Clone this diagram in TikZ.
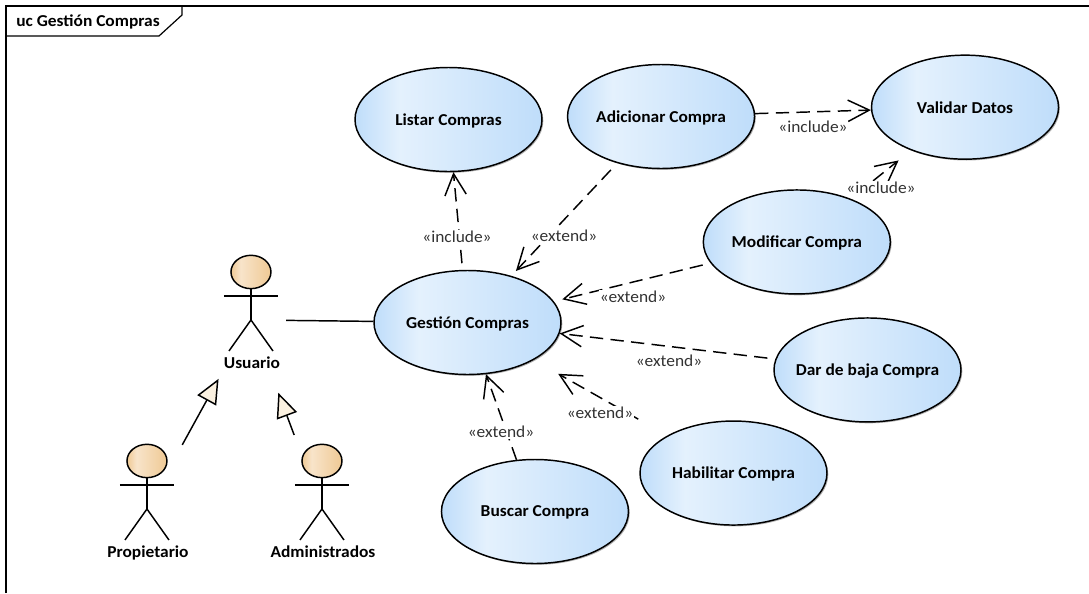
\documentclass[tikz,border=0pt]{standalone}
\usepackage{fontspec}
\setmainfont[FakeStretch=1.045]{Carlito}
\usetikzlibrary{shapes.geometric, arrows.meta, shadows}

\definecolor{ucblue}{HTML}{BFDDFA}
\definecolor{uclight}{HTML}{E4F1FD}
\definecolor{headtan}{HTML}{EFC994}
\definecolor{headlight}{HTML}{F8E4CA}
\definecolor{tipfill}{HTML}{FBF1E0}
\definecolor{labelgray}{HTML}{333333}

\pgfdeclarehorizontalshading{usecaseshade}{100bp}{color(0bp)=(ucblue); color(25bp)=(ucblue); color(37bp)=(uclight); color(75bp)=(ucblue); color(100bp)=(ucblue)}
\pgfdeclarehorizontalshading{headshade}{100bp}{color(0bp)=(headtan); color(25bp)=(headtan); color(37bp)=(headlight); color(75bp)=(headtan); color(100bp)=(headtan)}

\tikzstyle{usecase} = [ellipse, minimum width=140.25pt, minimum height=78pt, inner sep=0pt, text depth=0pt, draw=black, line width=1.1pt, shading=usecaseshade, drop shadow={shadow xshift=1pt, shadow yshift=-1pt, opacity=.3, fill=black}, font=\fontsize{12.5}{14}\selectfont\bfseries]
\tikzstyle{actorbox} = [rectangle, minimum width=52.5pt, minimum height=97.5pt, inner sep=0pt]
\tikzstyle{actorhead} = [ellipse, minimum width=30pt, minimum height=25pt, inner sep=0pt, draw=black, line width=1.1pt, shading=headshade]
\tikzstyle{actorname} = [inner sep=0pt, text depth=0pt, font=\fontsize{12.5}{14}\selectfont\bfseries]
\tikzstyle{stick} = [line width=1.1pt]
\tikzstyle{deplabel} = [fill=white, inner sep=0.5pt, text=labelgray, font=\fontsize{12.5}{14}\selectfont]
\tikzstyle{dep} = [line width=1.1pt, dash pattern=on 10pt off 5.5pt, -{Straight Barb[length=16pt, width=16pt]}]
\tikzstyle{inherit} = [line width=1.1pt, -{Triangle[length=18.5pt, width=16pt, fill=tipfill]}]

\newcommand{\stickman}[2]{
    \begin{scope}[shift={(#1.center)}]
        \node (#1head) [actorhead] at (0,-48) {};
        \draw[stick] (#1head) -- (0,0);
        \draw[stick] (-27,-24) -- (27,-24);
        \draw[stick] (-22,31) -- (0,0) -- (22,31);
        \node (#1name) [actorname] at (1,43) {#2};
    \end{scope}
}

\begin{document}
\begin{tikzpicture}[x=0.75pt, y=-0.75pt, node distance=150pt]

    \useasboundingbox (0,0) rectangle (1089,593);

    % frame
    \draw[line width=0.9pt] (6,593) -- (6,6) -- (1089,6);
    \draw[line width=0.9pt] (6,36) -- (159,36) -- (182,15) -- (182,6);
    \node (title) [actorname, anchor=west] at (16,21) {uc Gestión Compras};

    % use cases
    \node (gestion) [usecase] at (467.5,322.5) {Gestión Compras};

    \node (listar) [usecase, above of=gestion, xshift=-14.25pt, yshift=2.25pt] {Listar Compras};

    \node (adicionar) [usecase, right of=listar, xshift=9.4pt, yshift=2.25pt] {Adicionar Compra};

    \node (validar) [usecase, right of=adicionar, xshift=78pt, yshift=7pt] {Validar Datos};

    \node (modificar) [usecase, right of=gestion, xshift=97pt, yshift=60.4pt] {Modificar Compra};

    \node (baja) [usecase, right of=gestion, xshift=150pt, yshift=-35.6pt] {\makebox[0pt]{Dar de baja Compra}};

    \node (habilitar) [usecase, below of=gestion, xshift=199.5pt, yshift=37.1pt] {Habilitar Compra};

    \node (buscar) [usecase, below of=gestion, xshift=50.6pt, yshift=8.25pt] {Buscar Compra};

    % actors
    \node (usuario) [actorbox, left of=gestion, xshift=-12.4pt, yshift=1.9pt] {};

    \node (propietario) [actorbox, below of=usuario, xshift=-78pt, yshift=8.25pt] {};

    \node (administrados) [actorbox, right of=propietario, xshift=-18.75pt] {};

    \stickman{usuario}{Usuario}
    \stickman{propietario}{Propietario}
    \stickman{administrados}{Administrados}

    % connectors
    \draw[stick] (usuario) -- (gestion);
    \draw[inherit, shorten >=-4.5pt] (propietario) -- (usuario);
    \draw[inherit, shorten <=7pt, shorten >=6pt] (administrados) -- (usuario);

    \draw[dep, shorten <=5pt] (gestion) -- (listar);
    \draw[dep, shorten <=7pt, shorten >=5pt] (adicionar) -- (gestion);
    \draw[dep] (adicionar) -- (validar);
    \draw[dep, shorten <=6pt, shorten >=12pt] (modificar) -- (validar);
    \draw[dep, shorten <=6pt, shorten >=6.5pt] (modificar) -- (gestion);
    \draw[dep, shorten <=6pt] (baja) -- (gestion);
    \draw[dep, shorten <=25pt, shorten >=21pt] (habilitar) -- (gestion);
    \draw[dep] (buscar) -- (gestion);

    % labels
    \node (inclistar) [deplabel] at (457,237) {«include»};
    \node (extadicionar) [deplabel] at (564,236) {«extend»};
    \node (incadicionar) [deplabel] at (813,127) {«include»};
    \node (incmodificar) [deplabel] at (881,188) {«include»};
    \node (extmodificar) [deplabel] at (633,297) {«extend»};
    \node (extbaja) [deplabel] at (669,361) {«extend»};
    \node (exthabilitar) [deplabel] at (600,413) {«extend»};
    \node (extbuscar) [deplabel] at (501,432) {«extend»};

\end{tikzpicture}
\end{document}
